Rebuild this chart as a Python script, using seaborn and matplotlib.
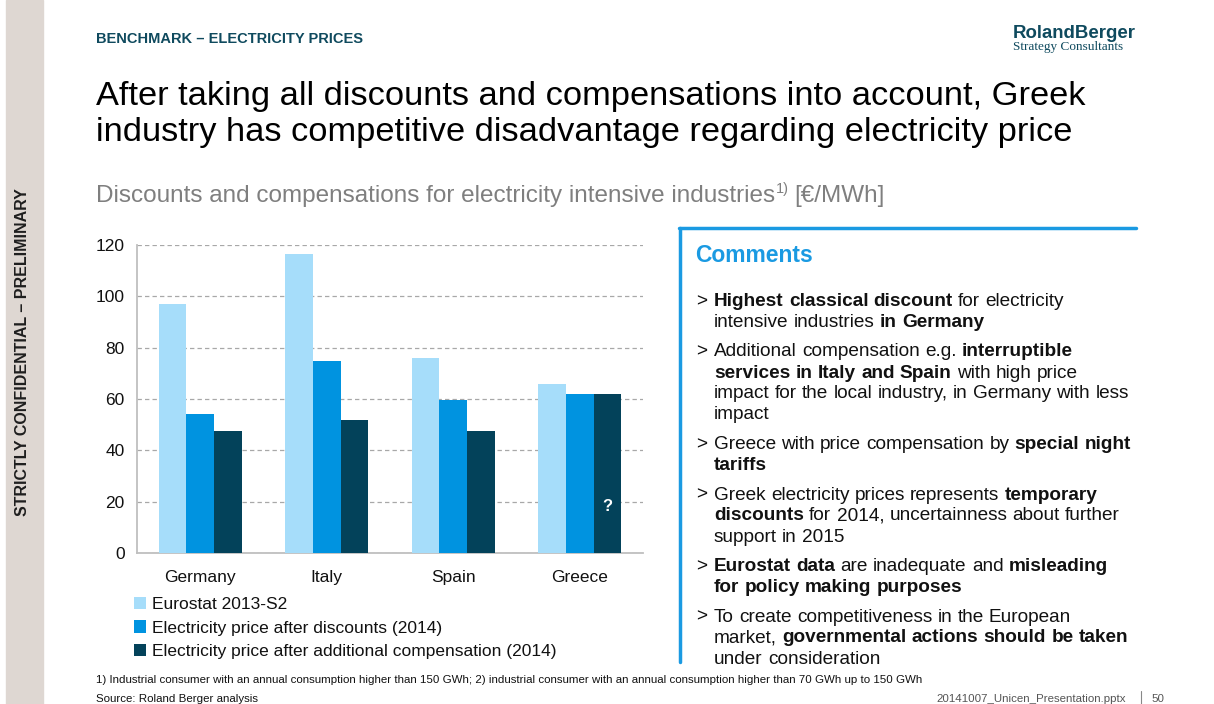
import re
import pandas as pd
import matplotlib.pyplot as plt
import seaborn as sns
from matplotlib import font_manager
from matplotlib.lines import Line2D
from matplotlib.ticker import FixedLocator

# data
countries = ['Germany', 'Italy', 'Spain', 'Greece']
series = ['Eurostat 2013-S2',
          'Electricity price after discounts (2014)',
          'Electricity price after additional compensation (2014)']
eurostat = [97, 116.5, 76, 66]
after_discounts = [54, 75, 59.5, 62]
after_compensation = [47.5, 52, 47.5, 62]
colors = ['#A6DDFA', '#0093E0', '#03425A']
y_ticks = [0, 20, 40, 60, 80, 100, 120]

comments = [
    [[('Highest classical discount', True), (' for electricity', False)],
     [('intensive industries ', False), ('in Germany', True)]],
    [[('Additional compensation e.g. ', False), ('interruptible', True)],
     [('services in Italy and Spain', True), (' with high price', False)],
     [('impact for the local industry, in Germany with less', False)],
     [('impact', False)]],
    [[('Greece with price compensation by ', False), ('special night', True)],
     [('tariffs', True)]],
    [[('Greek electricity prices represents ', False), ('temporary', True)],
     [('discounts', True), (' for 2014, uncertainness about further', False)],
     [('support in 2015', False)]],
    [[('Eurostat data', True), (' are inadequate and ', False), ('misleading', True)],
     [('for policy making purposes', True)]],
    [[('To create competitiveness in the European', False)],
     [('market, ', False), ('governmental actions should be taken', True)],
     [('under consideration', False)]],
]

df = pd.DataFrame({
    'country': countries * 3,
    'series': [s for s in series for _ in countries],
    'value': eurostat + after_discounts + after_compensation,
})

sns.set_style('white')
plt.rcParams['font.family'] = ['Liberation Sans', 'DejaVu Sans']
plt.rcParams.update({'text.color': 'black', 'xtick.color': 'black', 'ytick.color': 'black',
                     'axes.labelcolor': 'black'})

names = {f.name for f in font_manager.fontManager.ttflist}
narrow = 'Liberation Sans Narrow' if 'Liberation Sans Narrow' in names else 'Liberation Sans'

W, H = 1214, 704
fig = plt.figure(figsize=(W / 100, H / 100), dpi=100)
renderer = fig.canvas.get_renderer()


def fx(px):
    return px / W


def fy(py):
    return 1 - py / H


def width_of(t):
    return t.get_window_extent(renderer).width


def fit(t, target, vertical=False):
    bb = t.get_window_extent(renderer)
    cur = bb.height if vertical else bb.width
    t.set_fontsize(t.get_fontsize() * target / cur)
    return t


teal = '#0F4A5E'
blue = '#1A9AE2'
ink = '#111111'

# grey side strip
fig.patches.append(plt.Rectangle((fx(6), 0), fx(37), 1, transform=fig.transFigure,
                                 color='#DED7D2', zorder=0))
t = fig.text(fx(23), fy(352), 'STRICTLY CONFIDENTIAL \u2013 PRELIMINARY', rotation=90,
             ha='center', va='center', weight='bold', family=[narrow, 'DejaVu Sans'],
             color='#1E1E1E', fontsize=12, fontstretch='condensed')
fit(t, 326, vertical=True)

# header
fig.text(fx(96), fy(43), 'BENCHMARK \u2013 ELECTRICITY PRICES', weight='bold',
         color=teal, fontsize=10.5, va='baseline')
t = fig.text(fx(1013), fy(33), 'RolandBerger', weight='bold', color=teal,
             family=[narrow, 'DejaVu Sans'], fontsize=15, va='center')
fit(t, 124)
t = fig.text(fx(1013), fy(47), 'Strategy Consultants', color=teal,
             family=['Liberation Serif', 'DejaVu Serif'], fontsize=7, va='center')
fit(t, 111)

# title
t1 = fig.text(fx(96), fy(105), 'After taking all discounts and compensations into account, Greek',
              fontsize=20, va='baseline', color='black')
fit(t1, 986)
fig.text(fx(96), fy(141), 'industry has competitive disadvantage regarding electricity price',
         fontsize=t1.get_fontsize(), va='baseline', color='black')

# subtitle with superscript
sub_size = 17.5
sub_grey = '#7F7F7F'
t = fig.text(fx(96), fy(202), 'Discounts and compensations for electricity intensive industries',
             fontsize=sub_size, color=sub_grey, va='baseline')
x = 96 + width_of(t) + 1
t = fig.text(fx(x), fy(193), '1)', fontsize=sub_size * 0.6, color=sub_grey, va='baseline')
x += width_of(t) + 5
fig.text(fx(x), fy(202), '[\u20ac/MWh]', fontsize=sub_size, color=sub_grey, va='baseline')

# chart
ax = fig.add_axes([fx(137), fy(553), fx(643) - fx(137), fy(245) - fy(553)])
sns.barplot(data=df, x='country', y='value', hue='series', palette=colors,
            saturation=1, width=0.66, errorbar=None, linewidth=0, ax=ax, zorder=3)
ax.set_xlim(-0.5, len(countries) - 0.5)
ax.set_ylim(0, 120)
ax.set_yticks(y_ticks)
ax.set_xlabel('')
ax.set_ylabel('')
for s in ['top', 'right']:
    ax.spines[s].set_visible(False)
for s in ['left', 'bottom']:
    ax.spines[s].set_color('#BFBFBF')
    ax.spines[s].set_linewidth(1.3)
ax.yaxis.grid(True, linestyle=(0, (3.5, 2.5)), color='#A8A8A8', linewidth=0.9, zorder=0)
ax.set_axisbelow(True)
ax.tick_params(axis='y', length=4, color='#BFBFBF', width=1.2, labelsize=12.5, pad=5,
               labelcolor=ink)
ax.tick_params(axis='x', which='major', length=0, labelsize=12.5, pad=12, labelcolor=ink)
ax.xaxis.set_minor_locator(FixedLocator([i - 0.5 for i in range(len(countries) + 1)]))
ax.tick_params(axis='x', which='minor', length=5, color='#BFBFBF', width=1.2)

# question mark on the Greek compensation bar
ax.text(len(countries) - 1 + 0.66 / 3, 18, '?', color='white', weight='bold',
        fontsize=12, ha='center', va='center', zorder=5)

sns.move_legend(ax, loc='upper left', bbox_to_anchor=(fx(134), fy(597)),
                bbox_transform=fig.transFigure, frameon=False, title=None,
                fontsize=12.5, handlelength=0.7, handleheight=0.7,
                handletextpad=0.35, labelspacing=0.48, borderpad=0, borderaxespad=0)
for txt in ax.get_legend().get_texts():
    txt.set_color(ink)

# comments box
fig.lines.append(Line2D([fx(680), fx(680)], [fy(228), fy(662)], color=blue, lw=2.5,
                        transform=fig.transFigure))
fig.lines.append(Line2D([fx(679), fx(1136)], [fy(228), fy(228)], color=blue, lw=2.5,
                        transform=fig.transFigure))
fig.text(fx(695), fy(255), 'Comments', weight='bold', color=blue, fontsize=16.5, va='center')

t = fig.text(0, 0, 'impact for the local industry, in Germany with less', fontsize=10)
fit(t, 418)
c_size = t.get_fontsize()
t.remove()


def space_width(bold):
    a = fig.text(0, 0, 'a a', fontsize=c_size, weight='bold' if bold else 'normal')
    b = fig.text(0, 0, 'aa', fontsize=c_size, weight='bold' if bold else 'normal')
    w = width_of(a) - width_of(b)
    a.remove()
    b.remove()
    return w


spaces = {True: space_width(True), False: space_width(False)}


def rich_line(x, y, runs):
    for text, bold in runs:
        for tok in re.split(r'( )', text):
            if tok == ' ':
                x += spaces[bold]
            elif tok:
                tt = fig.text(fx(x), fy(y), tok, fontsize=c_size, va='baseline',
                              weight='bold' if bold else 'normal', color=ink)
                x += width_of(tt)


y = 306
for bullet in comments:
    fig.text(fx(696), fy(y), '>', fontsize=c_size, va='baseline', color=ink)
    for line in bullet:
        rich_line(714, y, line)
        y += 21
    y += 8.5

# footnotes
t = fig.text(fx(96), fy(683), '1) Industrial consumer with an annual consumption higher than 150 GWh; '
             '2) industrial consumer with an annual consumption higher than 70 GWh up to 150 GWh',
             fontsize=7.5, va='baseline', color=ink)
fit(t, 818)
fig.text(fx(96), fy(702), 'Source: Roland Berger analysis', fontsize=t.get_fontsize(),
         va='baseline', color=ink)
fig.text(fx(1126), fy(702), '20141007_Unicen_Presentation.pptx', fontsize=t.get_fontsize(),
         va='baseline', ha='right', color='#555555')
fig.lines.append(Line2D([fx(1141), fx(1141)], [fy(691), fy(704)], color='#888888', lw=0.8,
                        transform=fig.transFigure))
fig.text(fx(1151), fy(702), '50', fontsize=t.get_fontsize(), va='baseline', color='#555555')

fig.savefig('out.png', dpi=100)
